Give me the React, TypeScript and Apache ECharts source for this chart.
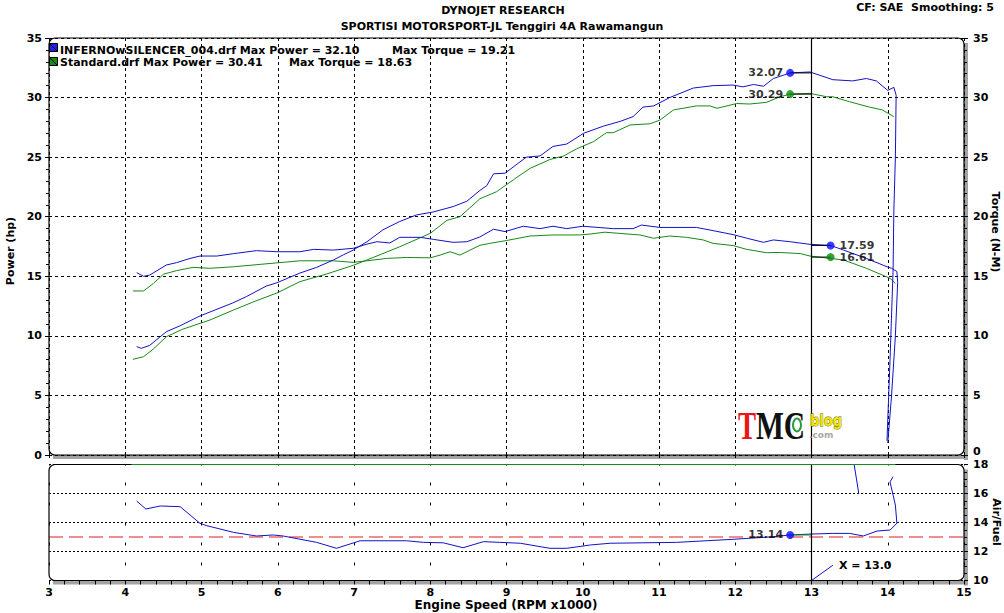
import React, { useEffect, useRef } from "react";
import * as echarts from "echarts";

// ---------- data ----------
const rpmMin = 3;
const rpmMax = 15;
const cursorRpm = 13.0;
const markerRpm = 12.72;
const torqueMarkerRpm = 13.25;
const powerMarkerValues = [32.07, 30.29];
const torqueMarkerValues = [17.59, 16.61];
const afrMarkerValue = 13.14;
const afrTarget = 13.0;

const infernoPowerRpm = [4.15, 4.21, 4.32, 4.54, 4.72, 4.98, 5.15, 5.41, 5.59, 5.85, 5.99, 6.29, 6.51, 6.73, 6.86, 6.99, 7.17, 7.38, 7.6, 7.82, 8.04, 8.3, 8.48, 8.65, 8.74, 8.83, 8.98, 9.26, 9.44, 9.61, 9.79, 10.01, 10.27, 10.49, 10.66, 10.79, 10.93, 11.14, 11.45, 11.71, 11.97, 12.1, 12.24, 12.37, 12.5, 12.72, 12.98, 13.28, 13.54, 13.72, 13.85, 14.0, 14.08, 14.11, 14.1, 14.08, 14.07, 14.03, 13.99];
const infernoPowerHp = [9.1, 8.95, 9.2, 10.35, 10.85, 11.67, 12.1, 12.76, 13.3, 14.18, 14.46, 15.27, 15.75, 16.37, 16.8, 17.2, 17.9, 18.9, 19.6, 20.15, 20.4, 20.85, 21.3, 22.2, 22.6, 23.6, 23.65, 25.0, 25.1, 25.9, 26.1, 27.0, 27.6, 28.0, 28.4, 29.2, 29.3, 30.0, 30.8, 31.0, 31.05, 30.9, 31.1, 30.95, 31.6, 32.07, 32.15, 31.5, 31.4, 31.6, 31.4, 30.6, 30.86, 30.2, 25.0, 20.5, 15.5, 8.0, 1.2];

const standardPowerRpm = [4.1, 4.24, 4.37, 4.54, 4.75, 4.98, 5.11, 5.42, 5.7, 5.99, 6.29, 6.64, 6.99, 7.17, 7.6, 8.0, 8.22, 8.39, 8.65, 8.87, 9.09, 9.31, 9.57, 9.75, 9.92, 10.14, 10.31, 10.4, 10.62, 10.88, 11.01, 11.19, 11.49, 11.67, 11.76, 12.02, 12.19, 12.41, 12.59, 12.72, 12.98, 13.2, 13.28, 13.5, 13.76, 13.93, 14.08];
const standardPowerHp = [8.03, 8.25, 8.9, 9.93, 10.55, 11.05, 11.33, 12.17, 12.9, 13.6, 14.55, 15.19, 15.92, 16.37, 17.48, 18.6, 19.7, 20.0, 21.5, 22.1, 23.1, 24.06, 24.8, 25.1, 25.7, 26.3, 27.05, 27.05, 27.7, 27.8, 28.1, 28.96, 29.3, 29.3, 29.1, 29.5, 29.46, 29.6, 30.07, 30.29, 30.35, 30.07, 30.07, 29.65, 29.2, 28.96, 28.4];

const infernoTorqueRpm = [4.15, 4.24, 4.32, 4.54, 4.67, 4.85, 4.98, 5.2, 5.42, 5.72, 5.99, 6.29, 6.47, 6.73, 6.99, 7.17, 7.3, 7.47, 7.6, 7.87, 8.04, 8.3, 8.48, 8.65, 8.83, 8.98, 9.22, 9.44, 9.61, 9.79, 10.0, 10.4, 10.66, 10.77, 11.01, 11.49, 11.71, 11.97, 12.15, 12.37, 12.5, 12.72, 12.98, 13.25, 13.42, 13.72, 13.99, 14.05, 14.12, 14.13, 14.1, 14.05, 14.0];
const infernoTorqueNm = [15.3, 15.0, 15.1, 15.95, 16.14, 16.5, 16.7, 16.7, 16.9, 17.15, 17.06, 17.06, 17.26, 17.2, 17.35, 17.7, 17.9, 17.8, 18.27, 18.27, 18.1, 17.85, 17.9, 18.3, 18.95, 18.75, 19.2, 19.0, 19.2, 19.0, 19.2, 19.0, 19.0, 19.3, 19.1, 19.1, 18.83, 18.5, 18.2, 17.85, 18.05, 17.9, 17.68, 17.59, 17.2, 16.5, 15.8, 15.67, 15.4, 14.5, 10.0, 5.0, 1.0];

const standardTorqueRpm = [4.1, 4.24, 4.37, 4.5, 4.67, 4.89, 5.11, 5.42, 5.77, 6.29, 6.73, 6.99, 7.17, 7.43, 7.69, 8.0, 8.13, 8.26, 8.39, 8.65, 8.78, 9.0, 9.31, 9.61, 9.96, 10.1, 10.29, 10.58, 10.75, 10.93, 11.14, 11.36, 11.58, 11.71, 11.97, 12.15, 12.41, 12.59, 12.86, 12.98, 13.42, 13.72, 14.03, 14.1];
const standardTorqueNm = [13.77, 13.77, 14.4, 15.17, 15.47, 15.75, 15.67, 15.8, 16.0, 16.3, 16.3, 16.17, 16.3, 16.5, 16.58, 16.55, 16.78, 17.06, 16.78, 17.6, 17.76, 18.0, 18.38, 18.47, 18.47, 18.55, 18.7, 18.55, 18.47, 18.19, 18.38, 18.27, 18.05, 17.76, 17.58, 17.26, 16.98, 17.0, 16.9, 16.7, 16.37, 15.67, 14.83, 14.4];

const infernoAfrRpm = [4.15, 4.27, 4.46, 4.72, 4.85, 4.98, 5.07, 5.42, 5.72, 5.94, 6.07, 6.51, 6.77, 7.08, 7.69, 7.91, 8.17, 8.43, 8.7, 8.91, 9.18, 9.57, 9.79, 10.1, 10.36, 11.23, 11.97, 12.5, 12.72, 12.98, 13.28, 13.5, 13.68, 13.86, 14.03, 14.12, 14.1, 14.03, 14.07];
const infernoAfr = [15.48, 14.93, 15.14, 15.09, 14.52, 13.94, 13.78, 13.32, 13.07, 13.14, 13.07, 12.63, 12.22, 12.74, 12.74, 12.63, 12.6, 12.26, 12.68, 12.63, 12.57, 12.22, 12.22, 12.45, 12.57, 12.63, 12.84, 13.02, 13.14, 13.2, 13.25, 13.25, 13.07, 13.41, 13.48, 13.94, 15.2, 16.8, 17.16];
const infernoAfrTailRpm = [13.56, 13.62];
const infernoAfrTail = [17.98, 16.0];
const standardAfrRpm = [4.08, 14.1];
const standardAfr = [18, 18];

// ---------- styles ----------
const FONT = '"DejaVu Sans", Verdana, sans-serif';
const BLUE = "#1212c4";
const GREEN = "#168a16";
const RED = "#e41c1c";
const DOT_BLUE = "#0a0aff";
const DOT_GREEN = "#0a8a0a";

const zip = (xs: number[], ys: number[]) => xs.map((x, i) => [x, ys[i]]);

const lineSeries = (data: number[][], color: string, xi: number, yi: number, extra: any = {}) => ({
  type: "line",
  data,
  xAxisIndex: xi,
  yAxisIndex: yi,
  showSymbol: false,
  symbol: "none",
  lineStyle: { color, width: 1 },
  itemStyle: { color },
  clip: false,
  silent: true,
  z: 3,
  ...extra,
});

const txt = (text: string, x: number, y: number, opts: any = {}) => ({
  type: "text",
  x,
  y,
  z: 20,
  rotation: opts.rotation || 0,
  scaleX: opts.scaleX || 1,
  style: {
    text,
    fill: opts.fill || "#000",
    stroke: opts.stroke,
    lineWidth: opts.lineWidth,
    fontSize: opts.size || 11,
    fontWeight: opts.weight || "bold",
    fontFamily: opts.family || FONT,
    align: opts.align || "left",
    textAlign: opts.align || "left",
    verticalAlign: "middle",
    textVerticalAlign: "middle",
  },
});

const labelFont = { fontFamily: FONT, fontWeight: "bold", fontSize: 11, color: "#000" };

const valueAxisCommon = {
  type: "value",
  axisLine: { show: false },
  axisTick: { show: true, length: 4, lineStyle: { color: "#000" } },
  axisLabel: { ...labelFont, color: "#000" },
};

function buildOption() {
  const L = 49, R = 964, T = 38, B = 455, T2 = 464.5, B2 = 580.5;
  const graphic: any[] = [
    // shadows
    { type: "rect", z: -5, shape: { x: R, y: T + 5, width: 4, height: B - T }, style: { fill: "#a3a3a3" } },
    { type: "rect", z: -5, shape: { x: L + 4, y: B, width: R - L, height: 4 }, style: { fill: "#a3a3a3" } },
    { type: "rect", z: -5, shape: { x: R, y: T2 + 5, width: 4, height: B2 - T2 }, style: { fill: "#a3a3a3" } },
    { type: "rect", z: -5, shape: { x: L + 4, y: B2, width: R - L, height: 4 }, style: { fill: "#a3a3a3" } },
    // borders
    { type: "rect", z: 4, shape: { x: L, y: T, width: R - L, height: B - T, r: 6 }, style: { fill: "none", stroke: "#000", lineWidth: 1.2 } },
    { type: "rect", z: 4, shape: { x: L, y: T2, width: R - L, height: B2 - T2, r: 6 }, style: { fill: "none", stroke: "#000", lineWidth: 1.2 } },
    // titles
    txt("DYNOJET RESEARCH", 503, 10, { align: "center" }),
    txt("SPORTISI MOTORSPORT-JL Tenggiri 4A Rawamangun", 502, 26, { align: "center" }),
    txt("CF: SAE  Smoothing: 5", 994, 7, { align: "right" }),
    // legend
    { type: "rect", z: 20, shape: { x: 49.5, y: 43.5, width: 8, height: 8 }, style: { fill: "#2020e8", stroke: "#000", lineWidth: 1 } },
    { type: "line", z: 21, shape: { x1: 49.5, y1: 43.5, x2: 57.5, y2: 51.5 }, style: { stroke: "#000", lineWidth: 1 } },
    { type: "rect", z: 20, shape: { x: 49.5, y: 57.5, width: 8, height: 8 }, style: { fill: "#148a14", stroke: "#000", lineWidth: 1 } },
    { type: "line", z: 21, shape: { x1: 49.5, y1: 57.5, x2: 57.5, y2: 65.5 }, style: { stroke: "#000", lineWidth: 1 } },
    txt("INFERNOwSILENCER_004.drf Max Power = 32.10", 60, 50),
    txt("Max Torque = 19.21", 392, 50),
    txt("Standard.drf Max Power = 30.41", 60, 62),
    txt("Max Torque = 18.63", 289, 62),
    // axis names
    txt("Power (hp)", 10, 251, { align: "center", rotation: Math.PI / 2 }),
    txt("Torque (N-M)", 995, 232, { align: "center", rotation: -Math.PI / 2 }),
    txt("Air/Fuel", 996, 522, { align: "center", rotation: -Math.PI / 2 }),
    txt("Engine Speed (RPM x1000)", 506, 605, { align: "center", size: 12 }),
    txt("X = 13.0", 839, 565),
    // logo
    txt("T", 738, 425, { family: '"Liberation Serif", serif', size: 41, fill: "#ee1414", scaleX: 0.66 }),
    txt("MC", 756, 425, { family: '"Liberation Serif", serif', size: 41, fill: "#111", scaleX: 0.72 }),
    { type: "ellipse", z: 21, shape: { cx: 797, cy: 425, rx: 4, ry: 6.5 }, style: { fill: "#ffffff", stroke: "#2a9a3a", lineWidth: 2 } },
    txt("blog", 810, 421, { size: 15, fill: "#f2e400", stroke: "#5a5a10", lineWidth: 0.8, scaleX: 0.87 }),
    txt(".com", 809, 435, { size: 9, fill: "#a8a8a8" }),
  ];

  const series: any[] = [
    lineSeries(zip(standardPowerRpm, standardPowerHp), GREEN, 0, 0),
    lineSeries(zip(standardTorqueRpm, standardTorqueNm), GREEN, 0, 1),
    lineSeries(zip(infernoPowerRpm, infernoPowerHp), BLUE, 0, 0, {
      markLine: {
        silent: true,
        symbol: "none",
        label: { show: false },
        lineStyle: { color: "#000", width: 1.2, type: "solid" },
        data: [{ xAxis: cursorRpm }],
      },
    }),
    lineSeries(zip(infernoTorqueRpm, infernoTorqueNm), BLUE, 0, 1),
    // leader lines
    lineSeries([[markerRpm, powerMarkerValues[0]], [cursorRpm, powerMarkerValues[0]]], "#000", 0, 0, { z: 4 }),
    lineSeries([[markerRpm, powerMarkerValues[1]], [cursorRpm, powerMarkerValues[1]]], "#000", 0, 0, { z: 4 }),
    lineSeries([[cursorRpm, torqueMarkerValues[0]], [torqueMarkerRpm, torqueMarkerValues[0]]], "#000", 0, 1, { z: 4 }),
    lineSeries([[cursorRpm, torqueMarkerValues[1]], [torqueMarkerRpm, torqueMarkerValues[1]]], "#000", 0, 1, { z: 4 }),
    {
      type: "scatter",
      xAxisIndex: 0,
      yAxisIndex: 0,
      symbolSize: 8,
      z: 6,
      silent: true,
      data: [
        { value: [markerRpm, powerMarkerValues[0]], itemStyle: { color: DOT_BLUE } },
        { value: [markerRpm, powerMarkerValues[1]], itemStyle: { color: DOT_GREEN } },
      ],
      label: { show: true, position: "left", distance: 3, ...labelFont, formatter: (p: any) => p.value[1].toFixed(2) },
    },
    {
      type: "scatter",
      xAxisIndex: 0,
      yAxisIndex: 1,
      symbolSize: 8,
      z: 6,
      silent: true,
      data: [
        { value: [torqueMarkerRpm, torqueMarkerValues[0]], itemStyle: { color: DOT_BLUE } },
        { value: [torqueMarkerRpm, torqueMarkerValues[1]], itemStyle: { color: DOT_GREEN } },
      ],
      label: { show: true, position: "right", distance: 5, ...labelFont, formatter: (p: any) => p.value[1].toFixed(2) },
    },
    // AFR panel
    lineSeries([[rpmMin, afrTarget], [rpmMax, afrTarget]], RED, 1, 2, {
      z: 2,
      lineStyle: { color: RED, width: 1.2, type: [14, 6] },
    }),
    lineSeries(zip(standardAfrRpm, standardAfr), GREEN, 1, 2, { z: 6 }),
    lineSeries(zip(infernoAfrRpm, infernoAfr), BLUE, 1, 2, {
      markLine: {
        silent: true,
        symbol: "none",
        label: { show: false },
        lineStyle: { color: "#000", width: 1.2, type: "solid" },
        data: [{ xAxis: cursorRpm }],
      },
    }),
    lineSeries(zip(infernoAfrTailRpm, infernoAfrTail), BLUE, 1, 2),
    lineSeries([[markerRpm, afrMarkerValue], [cursorRpm, afrMarkerValue]], GREEN, 1, 2, { z: 4 }),
    lineSeries([[cursorRpm, 10], [13.28, 11.05]], BLUE, 1, 2, { z: 4 }),
    {
      type: "scatter",
      xAxisIndex: 1,
      yAxisIndex: 2,
      symbolSize: 8,
      z: 6,
      silent: true,
      data: [{ value: [markerRpm, afrMarkerValue], itemStyle: { color: DOT_BLUE } }],
      label: { show: true, position: "left", distance: 3, ...labelFont, formatter: (p: any) => p.value[1].toFixed(2) },
    },
  ];

  return {
    animation: false,
    backgroundColor: "#ffffff",
    textStyle: { fontFamily: FONT },
    grid: [
      { left: L, top: T, width: R - L, height: B - T, containLabel: false },
      { left: L, top: T2, width: R - L, height: B2 - T2, containLabel: false },
    ],
    xAxis: [
      {
        type: "value",
        gridIndex: 0,
        min: rpmMin,
        max: rpmMax,
        interval: 1,
        axisLine: { show: false },
        axisLabel: { show: false },
        axisTick: { show: true, length: 3, lineStyle: { color: "#000" } },
        splitLine: { show: true, lineStyle: { color: "#000", width: 1, type: [3, 3] } },
      },
      {
        type: "value",
        gridIndex: 1,
        min: rpmMin,
        max: rpmMax,
        interval: 1,
        axisLine: { show: false },
        axisLabel: { ...labelFont, color: "#000", margin: 6 },
        axisTick: { show: true, length: 4, lineStyle: { color: "#000" } },
        minorTick: { show: true, splitNumber: 5, length: 4, lineStyle: { color: "#000" } },
        splitLine: { show: true, lineStyle: { color: "#000", width: 1, type: [3, 17], dashOffset: 1.5 } },
      },
    ],
    yAxis: [
      {
        ...valueAxisCommon,
        gridIndex: 0,
        position: "left",
        min: 0,
        max: 35,
        interval: 5,
        axisLabel: { ...valueAxisCommon.axisLabel, margin: 7 },
        minorTick: { show: true, splitNumber: 5, length: 3, lineStyle: { color: "#000" } },
        splitLine: { show: true, lineStyle: { color: "#000", width: 1, type: [3, 3] } },
      },
      {
        ...valueAxisCommon,
        gridIndex: 0,
        position: "right",
        min: 0,
        max: 35,
        interval: 5,
        axisLabel: {
          ...valueAxisCommon.axisLabel,
          margin: 9,
          formatter: (v: number) => (v === 0 ? "{z|0}" : String(v)),
          rich: { z: { ...labelFont, padding: [0, 0, 8, 0] } },
        },
        minorTick: { show: true, splitNumber: 5, length: 3, lineStyle: { color: "#000" } },
        splitLine: { show: false },
      },
      {
        ...valueAxisCommon,
        gridIndex: 1,
        position: "right",
        min: 10,
        max: 18,
        interval: 2,
        axisLabel: { ...valueAxisCommon.axisLabel, margin: 9 },
        minorTick: { show: true, splitNumber: 4, length: 3, lineStyle: { color: "#000" } },
        splitLine: { show: true, lineStyle: { color: "#000", width: 1, type: [2, 2] } },
      },
    ],
    graphic,
    series,
  };
}

export default function App() {
  const ref = useRef<HTMLDivElement>(null);
  useEffect(() => {
    if (!ref.current) return;
    const chart = echarts.init(ref.current, undefined, { renderer: "svg" });
    chart.setOption(buildOption() as any);
    return () => chart.dispose();
  }, []);
  return (
    <div
      ref={ref}
      style={{ position: "fixed", left: 0, top: 0, width: 1004, height: 613, background: "#fff" }}
    />
  );
}
